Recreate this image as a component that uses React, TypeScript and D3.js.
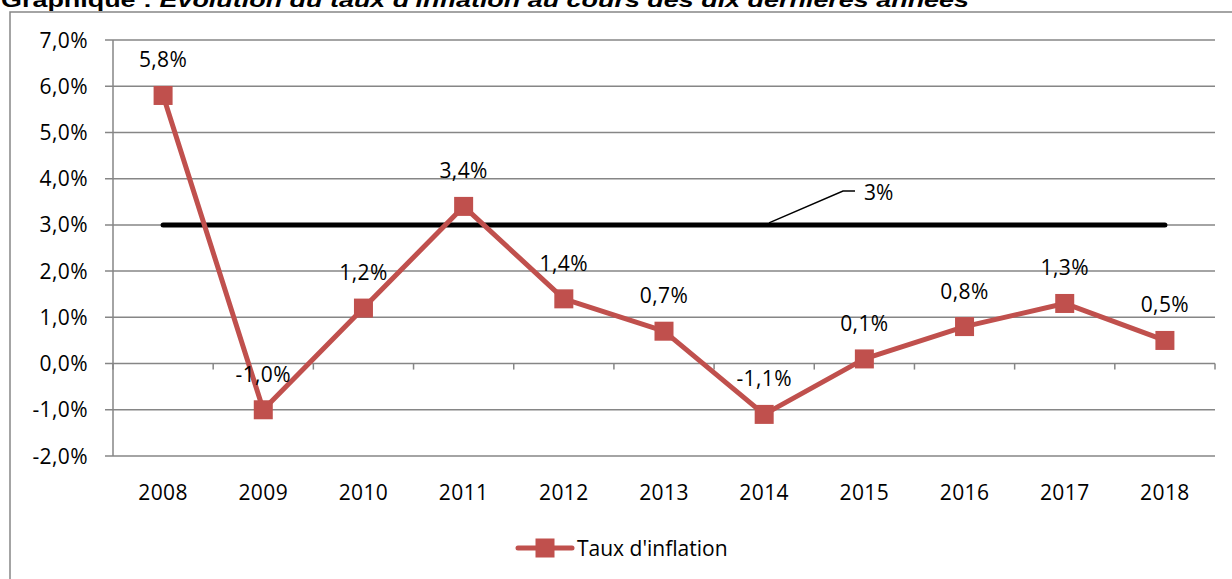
import React from 'react';
import * as d3 from 'd3';

const years = ['2008', '2009', '2010', '2011', '2012', '2013', '2014', '2015', '2016', '2017', '2018'];
const inflation = [5.8, -1.0, 1.2, 3.4, 1.4, 0.7, -1.1, 0.1, 0.8, 1.3, 0.5];
const target = 3;
const yTicks = [-2, -1, 0, 1, 2, 3, 4, 5, 6, 7];

const RED = '#C0504D';
const GRID = '#868686';
const FONT = '"Open Sans", "DejaVu Sans", sans-serif';
const FS = 21;

const fmt = (v: number, digits: number) => v.toFixed(digits).replace('.', ',') + '%';

const App = () => {
  const width = 1232;
  const height = 579;
  const left = 113;
  const right = 1215;
  const top = 40;
  const bottom = 456;

  const x = d3.scaleBand().domain(years).range([left, right]);
  const cx = (d: string) => (x(d) as number) + x.bandwidth() / 2;
  const y = d3.scaleLinear().domain([-2, 7]).range([bottom, top]);

  const line = d3
    .line<number>()
    .x((_, i) => cx(years[i]))
    .y((d) => y(d));

  const bounds = years.map((d) => x(d) as number).concat([right]);
  const m = 19;

  return (
    <svg width={width} height={height} style={{ position: 'absolute', left: 0, top: 0, background: '#fff' }}>
      <text x={1} y={7} fontFamily='"Liberation Sans", Arial, sans-serif' fontWeight="bold" fontSize={20}
        textLength={968} lengthAdjust="spacingAndGlyphs">
        <tspan>Graphique : </tspan>
        <tspan fontStyle="italic">Evolution du taux d'inflation au cours des dix dernières années</tspan>
      </text>
      <rect x={10} y={12} width={1240} height={600} fill="none" stroke={GRID} strokeWidth={1.5} />

      {/* grille et axe Y */}
      {yTicks.map((t) => (
        <g key={t}>
          <line x1={left - 8} x2={right} y1={y(t)} y2={y(t)} stroke={GRID} strokeWidth={1.5} />
          <text x={88} y={y(t)} dy="0.36em" textAnchor="end" fontFamily={FONT} fontSize={FS} letterSpacing={0.4}>
            {fmt(t, 1)}
          </text>
        </g>
      ))}
      <line x1={left} x2={left} y1={top} y2={bottom} stroke={GRID} strokeWidth={1.5} />
      {bounds.map((b, i) => (
        <line key={i} x1={b} x2={b} y1={y(0)} y2={y(0) + 6} stroke={GRID} strokeWidth={1.5} />
      ))}
      {years.map((d) => (
        <text key={d} x={cx(d)} y={500} textAnchor="middle" fontFamily={FONT} fontSize={FS} letterSpacing={0.4}>
          {d}
        </text>
      ))}

      {/* objectif 3% */}
      <line x1={cx(years[0])} x2={cx(years[years.length - 1])} y1={y(target)} y2={y(target)}
        stroke="#000" strokeWidth={5} strokeLinecap="round" />
      <polyline points={`769,${y(target) - 2} 843,191 855,191`} fill="none" stroke="#000" strokeWidth={1.5} />
      <text x={864} y={200} fontFamily={FONT} fontSize={FS}>{fmt(target, 0)}</text>

      {/* série */}
      <path d={line(inflation) || ''} fill="none" stroke={RED} strokeWidth={5} strokeLinejoin="round" />
      {inflation.map((v, i) => (
        <g key={i}>
          <rect x={cx(years[i]) - m / 2} y={y(v) - m / 2} width={m} height={m} fill={RED} />
          <text x={cx(years[i])} y={y(v) - 28} textAnchor="middle" fontFamily={FONT} fontSize={FS} letterSpacing={0.4}>
            {fmt(v, 1)}
          </text>
        </g>
      ))}

      {/* légende */}
      <line x1={518} x2={572} y1={548} y2={548} stroke={RED} strokeWidth={5} strokeLinecap="round" />
      <rect x={545 - m / 2} y={548 - m / 2} width={m} height={m} fill={RED} />
      <text x={577} y={556} fontFamily={FONT} fontSize={FS}>Taux d'inflation</text>
    </svg>
  );
};

export default App;
